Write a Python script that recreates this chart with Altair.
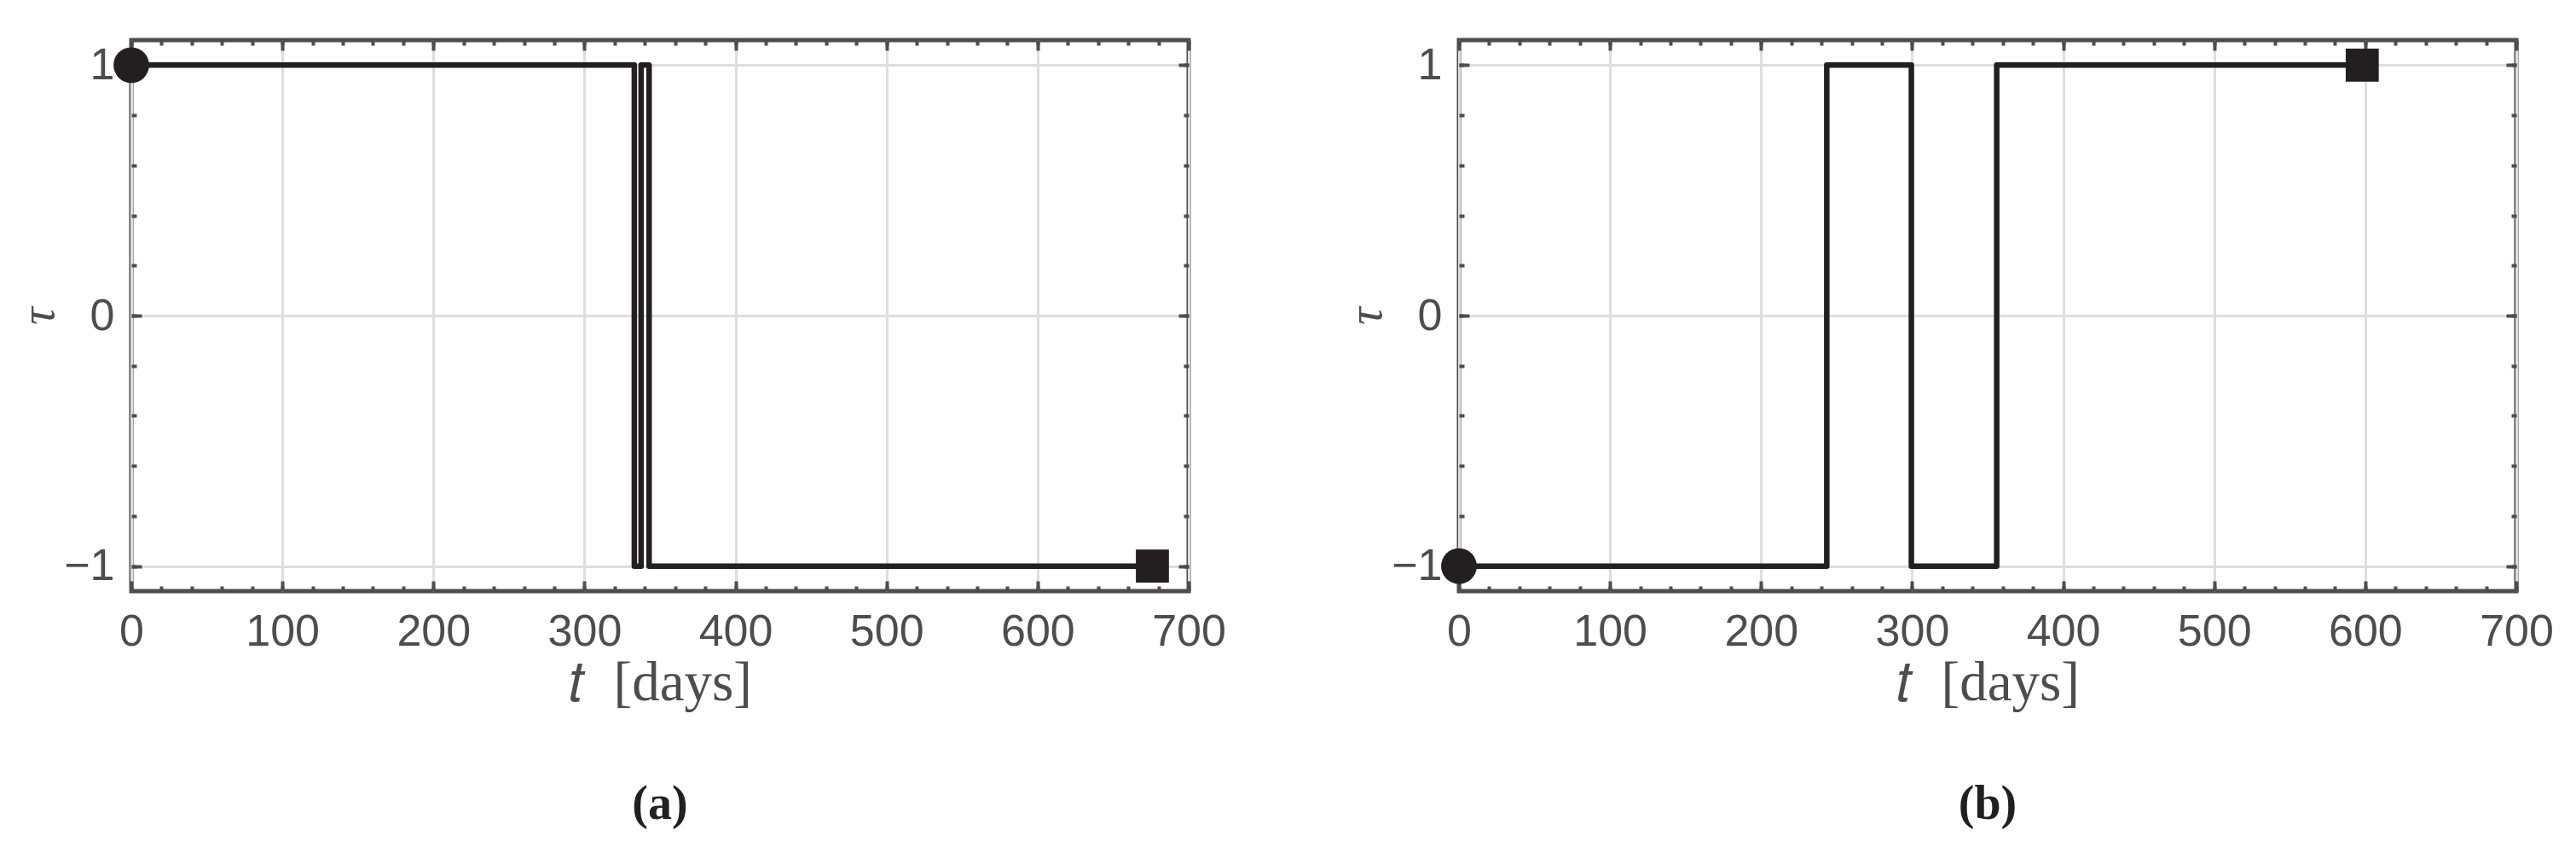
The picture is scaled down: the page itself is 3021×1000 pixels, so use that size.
import altair as alt
import pandas as pd

# ---- data ----
t_a = [0, 333, 337.5, 342.8, 676]
tau_a = [1, -1, 1, -1, -1]
t_b = [0, 243.5, 299.5, 356, 598]
tau_b = [-1, 1, -1, 1, 1]

x_major = [0, 100, 200, 300, 400, 500, 600, 700]
x_minor = list(range(0, 701, 20))
y_major = [-1, 0, 1]
y_minor = [-1.0, -0.8, -0.6, -0.4, -0.2, 0.0, 0.2, 0.4, 0.6, 0.8, 1.0]

captions = ["(a)", "(b)"]
x_title = "𝑡\u00a0\u00a0[days]"
y_title = "τ"

LINE = "#231f20"
FRAME = "#4d4d4d"
GRID = "#dedede"
LABEL = "#4d4d4d"
W, H = 1240, 646


def panel(t, tau, caption):
    df = pd.DataFrame({"t": t, "tau": tau})
    xs = alt.Scale(domain=[0, 700], nice=False, zero=False)
    ys = alt.Scale(domain=[-1.1, 1.1], nice=False, zero=False)
    base = alt.Chart(df)

    main = base.mark_line(
        interpolate="step-after", color=LINE, strokeWidth=6.5, strokeJoin="round"
    ).encode(
        x=alt.X("t:Q", scale=xs, axis=alt.Axis(
            values=x_major, ticks=False, domain=False, grid=True,
            gridColor=GRID, gridWidth=3, labelFont="Liberation Sans",
            labelFontSize=52, labelColor=LABEL, labelPadding=22,
            labelFlush=False, labelOverlap=False, format="d",
            title=x_title, titleFont="Liberation Serif", titleFontSize=65,
            titleFontWeight="normal", titleColor=LABEL, titlePadding=3)),
        y=alt.Y("tau:Q", scale=ys, axis=alt.Axis(
            values=y_major, ticks=False, domain=False, grid=True,
            gridColor=GRID, gridWidth=3, labelFont="Liberation Sans",
            labelFontSize=52, labelColor=LABEL, labelPadding=20,
            labelFlush=False, labelOverlap=False, format="d",
            title=y_title, titleFont="Liberation Serif", titleFontSize=58,
            titleFontStyle="italic", titleFontWeight="normal",
            titleColor=LABEL, titlePadding=0)),
    )

    def ticks(xv, yv, size, xo, yo):
        return base.mark_line(opacity=0).encode(
            x=alt.X("t:Q", scale=xs, axis=alt.Axis(
                orient=xo, values=xv, offset=-size, tickSize=size, tickWidth=4,
                tickColor=FRAME, labels=False, domain=False, grid=False,
                title=None)),
            y=alt.Y("tau:Q", scale=ys, axis=alt.Axis(
                orient=yo, values=yv, offset=-size, tickSize=size, tickWidth=4,
                tickColor=FRAME, labels=False, domain=False, grid=False,
                title=None)),
        )

    start = alt.Chart(pd.DataFrame({"t": [t[0]], "tau": [tau[0]]})).mark_point(
        shape="circle", filled=True, size=1750, color=LINE, opacity=1
    ).encode(x=alt.X("t:Q", scale=xs, axis=None), y=alt.Y("tau:Q", scale=ys, axis=None))
    end = alt.Chart(pd.DataFrame({"t": [t[-1]], "tau": [tau[-1]]})).mark_point(
        shape="square", filled=True, size=1500, color=LINE, opacity=1
    ).encode(x=alt.X("t:Q", scale=xs, axis=None), y=alt.Y("tau:Q", scale=ys, axis=None))

    return alt.layer(
        main,
        ticks(x_major, y_major, 12, "bottom", "left"),
        ticks(x_major, y_major, 12, "top", "right"),
        ticks(x_minor, y_minor, 6, "bottom", "left"),
        ticks(x_minor, y_minor, 6, "top", "right"),
        start, end,
    ).resolve_axis(x="independent", y="independent").properties(
        width=W, height=H,
        title=alt.TitleParams(caption, orient="bottom", font="Liberation Serif",
                              fontSize=56, fontWeight="bold", color=LINE,
                              offset=83, anchor="middle"),
    )


chart = alt.hconcat(
    panel(t_a, tau_a, captions[0]),
    panel(t_b, tau_b, captions[1]),
    spacing=131,
).configure_view(stroke=FRAME, strokeWidth=5).properties(
    padding={"left": 6, "top": 34, "right": 0, "bottom": 0},
    background="white",
)

chart.save("out.html", embed_options={"renderer": "svg", "actions": False})
